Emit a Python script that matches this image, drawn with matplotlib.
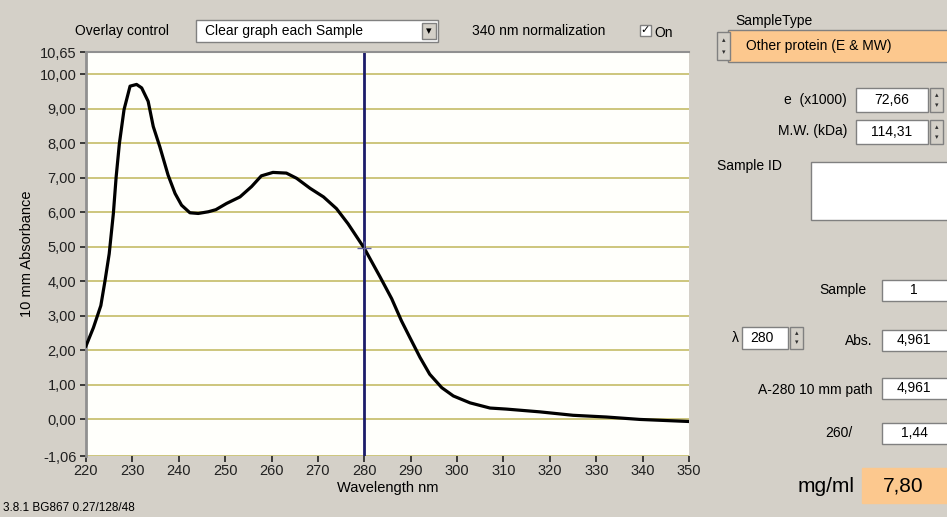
import matplotlib
matplotlib.use("Agg")
import matplotlib.pyplot as plt
from matplotlib.patches import Rectangle

plt.rcParams['font.family'] = ['Liberation Sans', 'DejaVu Sans']

# spectrum
wavelength = [220, 221.6, 223.2, 224.1, 225.0, 225.9, 226.5, 227.2, 228.2, 229.5,
              230.9, 232.0, 233.4, 234.5, 235.9, 237.7, 239.2, 240.6, 242.4, 244.2,
              246.4, 248.0, 250.3, 253.2, 255.7, 257.8, 260.3, 263.2, 265.4, 268.3,
              271.2, 274.0, 276.5, 280.0, 283.4, 285.9, 288.0, 289.8, 292.0, 294.1,
              296.7, 299.2, 302.8, 307.1, 310.6, 317.8, 325.0, 332.2, 339.4, 350]
absorbance = [2.13, 2.66, 3.30, 4.02, 4.80, 5.97, 7.03, 8.00, 8.98, 9.66,
              9.71, 9.61, 9.22, 8.49, 7.91, 7.08, 6.55, 6.21, 5.99, 5.97,
              6.02, 6.08, 6.26, 6.45, 6.75, 7.06, 7.16, 7.14, 6.99, 6.70,
              6.45, 6.11, 5.67, 4.961, 4.13, 3.50, 2.86, 2.38, 1.80, 1.31,
              0.92, 0.68, 0.48, 0.33, 0.30, 0.22, 0.12, 0.07, 0.00, -0.06]

x_ticks = [220, 230, 240, 250, 260, 270, 280, 290, 300, 310, 320, 330, 340, 350]
y_ticks = [-1.06, 0, 1, 2, 3, 4, 5, 6, 7, 8, 9, 10, 10.65]
y_tick_labels = ['-1,06', '0,00', '1,00', '2,00', '3,00', '4,00', '5,00', '6,00',
                 '7,00', '8,00', '9,00', '10,00', '10,65']
grid_levels = [-1.06, 0, 1, 2, 3, 4, 5, 6, 7, 8, 9, 10]
cursor_nm = 280
cursor_abs = 4.961

gray = '#d4d0c8'
orange = '#fcc88e'

fig = plt.figure(figsize=(9.47, 5.17), dpi=100, facecolor=gray)

ax = fig.add_axes([86 / 947, 61 / 517, 603 / 947, 404 / 517])
ax.set_facecolor('#fffffb')
for lv in grid_levels:
    ax.axhline(lv, color='#cdc67c', lw=1.4, zorder=1)
ax.plot(wavelength, absorbance, color='black', lw=2.3, zorder=3)
ax.axvline(cursor_nm, color='#1c1c6a', lw=2, zorder=2)
ax.plot([cursor_nm], [cursor_abs], marker='+', ms=10, mew=1, color='#6060a0', zorder=4)

ax.set_xlim(220, 350)
ax.set_ylim(-1.06, 10.65)
ax.set_xticks(x_ticks)
ax.set_yticks(y_ticks)
ax.set_yticklabels(y_tick_labels)
ax.tick_params(axis='both', labelsize=10.5, colors='#202020', length=4, width=1.2)
ax.tick_params(axis='y', pad=3)
ax.tick_params(axis='x', pad=2)
ax.set_xlabel('Wavelength nm', fontsize=10.5, labelpad=2)
ax.set_ylabel('10 mm Absorbance', fontsize=10.5, labelpad=4)
ax.spines['left'].set_color('#909090')
ax.spines['left'].set_linewidth(2)
ax.spines['top'].set_color('#909090')
ax.spines['top'].set_linewidth(1.5)
ax.spines['right'].set_visible(False)
ax.spines['bottom'].set_visible(False)

# window controls drawn in pixel space
ui = fig.add_axes([0, 0, 1, 1])
ui.set_xlim(0, 947)
ui.set_ylim(517, 0)
ui.axis('off')


def box(x, y, w, h, fc='white', ec='#808080'):
    ui.add_patch(Rectangle((x, y), w, h, fc=fc, ec=ec, lw=1))


def spinner(x, y, h):
    box(x, y, 13, h, fc=gray)
    ui.text(x + 6.5, y + h * 0.3, '\u25b4', fontsize=5, ha='center', va='center', color='#303030')
    ui.text(x + 6.5, y + h * 0.72, '\u25be', fontsize=5, ha='center', va='center', color='#303030')


fs = 10
ui.text(75, 31, 'Overlay control', fontsize=fs, va='center')
box(196, 20, 242, 22)
ui.text(205, 31, 'Clear graph each Sample', fontsize=fs, va='center')
box(422, 23, 14, 16, fc=gray)
ui.text(429, 31, '\u25be', fontsize=8, ha='center', va='center')
ui.text(472, 31, '340 nm normalization', fontsize=fs, va='center')
box(640, 25, 11, 11)
ui.text(645.5, 30.5, '\u2713', fontsize=8, ha='center', va='center', family='DejaVu Sans')
ui.text(654, 33, 'On', fontsize=fs, va='center')

ui.text(735, 21, 'SampleType', fontsize=fs, va='center')
box(728, 30, 230, 32, fc=orange)
spinner(717, 32, 28)
ui.text(819, 46, 'Other protein (E & MW)', fontsize=fs, ha='center', va='center')

ui.text(847, 100, 'e  (x1000)', fontsize=fs, ha='right', va='center')
box(856, 88, 72, 24)
ui.text(892, 100, '72,66', fontsize=fs, ha='center', va='center')
spinner(930, 88, 24)

ui.text(847, 131, 'M.W. (kDa)', fontsize=fs, ha='right', va='center')
box(856, 120, 72, 24)
ui.text(892, 132, '114,31', fontsize=fs, ha='center', va='center')
spinner(930, 120, 24)

ui.text(717, 166, 'Sample ID', fontsize=fs, va='center')
box(811, 162, 150, 58)

ui.text(866, 290, 'Sample', fontsize=fs, ha='right', va='center')
box(882, 280, 70, 21)
ui.text(914, 290, '1', fontsize=fs, ha='center', va='center')

ui.text(735, 338, '\u03bb', fontsize=fs, ha='center', va='center')
box(742, 327, 46, 22)
ui.text(762, 338, '280', fontsize=fs, ha='center', va='center')
spinner(790, 327, 22)
ui.text(872, 341, 'Abs.', fontsize=fs, ha='right', va='center')
box(882, 330, 70, 21)
ui.text(914, 340, '4,961', fontsize=fs, ha='center', va='center')

ui.text(872, 390, 'A-280 10 mm path', fontsize=fs, ha='right', va='center')
box(882, 378, 70, 21)
ui.text(914, 388, '4,961', fontsize=fs, ha='center', va='center')

ui.text(852, 433, '260/', fontsize=fs, ha='right', va='center')
box(882, 423, 70, 21)
ui.text(914, 433, '1,44', fontsize=fs, ha='center', va='center')

ui.text(855, 487, 'mg/ml', fontsize=15, ha='right', va='center')
box(862, 468, 95, 35, fc=orange, ec=orange)
ui.text(903, 486, '7,80', fontsize=15, ha='center', va='center')

ui.text(3, 508, '3.8.1 BG867 0.27/128/48', fontsize=8.5, va='center')

fig.savefig('out.png', dpi=100, facecolor=gray)
